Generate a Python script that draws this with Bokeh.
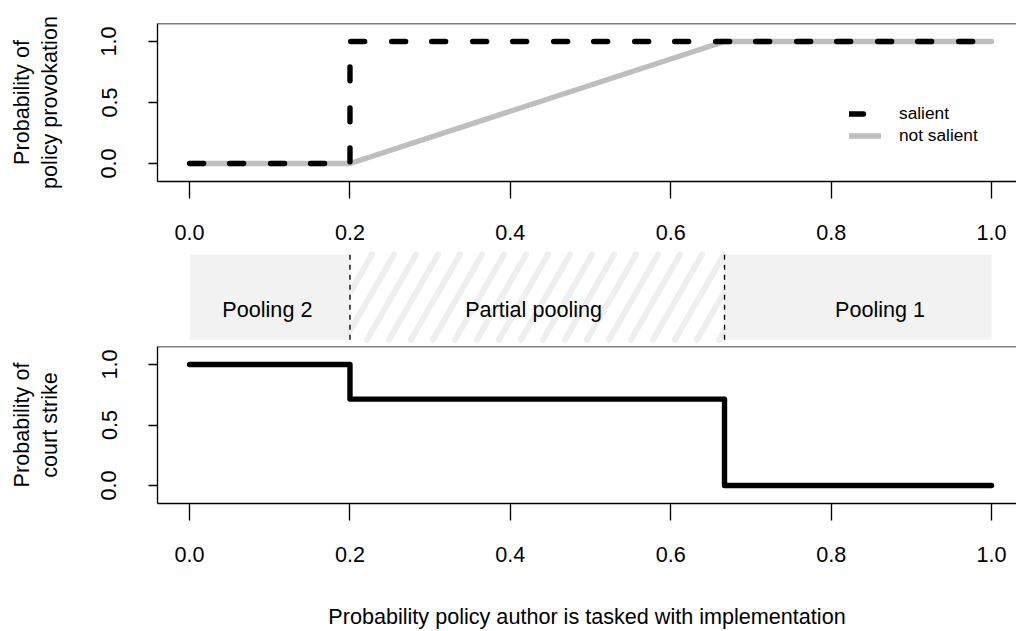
import math
from bokeh.plotting import figure
from bokeh.layouts import column
from bokeh.models import (FixedTicker, NumeralTickFormatter, Span, Legend, LegendItem,
                          Range1d)
from bokeh.embed import file_html
from bokeh.resources import INLINE
from bokeh.core.properties import value

# ---------------- data ----------------
x_ticks = [0.0, 0.2, 0.4, 0.6, 0.8, 1.0]
y_ticks = [0.0, 0.5, 1.0]

salient_x = [0.0, 0.2, 0.2, 1.0]
salient_y = [0.0, 0.0, 1.0, 1.0]
not_salient_x = [0.0, 0.2, 0.667, 1.0]
not_salient_y = [0.0, 0.0, 1.0, 1.0]

strike_x = [0.0, 0.2, 0.2, 0.667, 0.667, 1.0]
strike_y = [1.0, 1.0, 0.714, 0.714, 0.0, 0.0]

regime_labels = ["Pooling 2", "Partial pooling", "Pooling 1"]
regime_bounds = [0.0, 0.2, 0.667, 1.0]
regime_label_x = [0.097, 0.429, 0.861]

# ---------------- layout / style ----------------
FONT = "Liberation Sans"
FS = "21.6px"
W = 1016
LEFT = 157
PX_PER_UNIT = 802.0
X0 = -0.04
xr = Range1d(X0, X0 + (W - LEFT) / PX_PER_UNIT)
YR = (-0.148, 1.148)
LW = 5.4
BW = 1.35


def style_panel(p, ylabel):
    p.xgrid.visible = False
    p.ygrid.visible = False
    p.outline_line_color = None
    p.background_fill_color = "white"
    p.border_fill_color = "white"
    for ax in (p.xaxis[0], p.yaxis[0]):
        ax.axis_line_color = "black"
        ax.axis_line_width = BW
        ax.major_tick_line_color = "black"
        ax.major_tick_line_width = BW
        ax.minor_tick_line_color = None
        ax.major_tick_in = 0
        ax.major_label_text_font = FONT
        ax.major_label_text_font_size = FS
        ax.major_label_text_color = "black"
        ax.axis_label_text_font = FONT
        ax.axis_label_text_font_size = FS
        ax.axis_label_text_font_style = "normal"
        ax.axis_label_text_color = "black"
    xa = p.xaxis[0]
    xa.ticker = FixedTicker(ticks=x_ticks)
    xa.formatter = NumeralTickFormatter(format="0.0")
    xa.major_tick_out = 17
    xa.major_label_standoff = 26
    ya = p.yaxis[0]
    ya.ticker = FixedTicker(ticks=y_ticks)
    ya.formatter = NumeralTickFormatter(format="0.0")
    ya.major_tick_out = 9
    ya.major_label_standoff = 32
    ya.major_label_orientation = "vertical"
    ya.axis_label = ylabel
    ya.axis_label_standoff = 37
    ya.axis_label_text_line_height = 1.1
    p.add_layout(Span(location=YR[1], dimension="width", line_color="black", line_width=BW))


# ---------------- top panel ----------------
p1 = figure(width=W, height=250, x_range=xr, y_range=Range1d(*YR),
            output_backend="svg", toolbar_location=None,
            min_border_left=LEFT, min_border_right=0, min_border_top=23, min_border_bottom=69)
style_panel(p1, "Probability of\npolicy provokation")
r_ns = p1.line(not_salient_x, not_salient_y, line_color="#bebebe", line_width=LW,
               line_join="round", line_cap="round")
r_s = p1.line(salient_x, salient_y, line_color="black", line_width=LW,
              line_dash="14 26 14 27", line_join="round", line_cap="round")
legend = Legend(items=[LegendItem(label="salient", renderers=[r_s]),
                       LegendItem(label="not salient", renderers=[r_ns])],
                location=(692, 35), glyph_width=32, glyph_height=21, label_height=21,
                spacing=1, padding=0, margin=0, label_standoff=18,
                border_line_color=None, background_fill_alpha=0,
                label_text_font=FONT, label_text_font_size="17.3px", label_text_color="black")
p1.add_layout(legend)

# ---------------- middle band ----------------
p2 = figure(width=W, height=95, x_range=xr, y_range=Range1d(-0.067, 1.047),
            output_backend="svg", toolbar_location=None,
            x_axis_location=None, y_axis_location=None,
            min_border_left=LEFT, min_border_right=0, min_border_top=0, min_border_bottom=0)
p2.xgrid.visible = False
p2.ygrid.visible = False
p2.outline_line_color = None
p2.border_fill_color = "white"

BAND = "#f2f2f2"
p2.quad(left=[regime_bounds[0], regime_bounds[2]], right=[regime_bounds[1], regime_bounds[3]],
        bottom=0, top=1, fill_color=BAND, line_color=None)

# hatch stripes in the partial-pooling region (about 60 degrees on screen)
lo, hi = regime_bounds[1], regime_bounds[2]
spacing = 22.0 / PX_PER_UNIT
run = 49.0 / PX_PER_UNIT
xs, ys = [], []
x0 = lo - run
while x0 < hi:
    t_lo = max(0.0, (lo - x0) / run)
    t_hi = min(1.0, (hi - x0) / run)
    if t_hi > t_lo:
        xs.append([x0 + run * t_lo, x0 + run * t_hi])
        ys.append([t_lo, t_hi])
    x0 += spacing
p2.multi_line(xs, ys, line_color="#efefef", line_width=6, line_cap="round")

p2.segment(x0=regime_bounds[1:3], x1=regime_bounds[1:3], y0=0, y1=1,
           line_color="black", line_width=BW, line_dash="5 5")
p2.text(x=regime_label_x, y=[0.355] * 3, text=regime_labels,
        text_font=value(FONT), text_font_size=FS, text_align="center",
        text_baseline="middle", text_color="black")

# ---------------- bottom panel ----------------
p3 = figure(width=W, height=286, x_range=xr, y_range=Range1d(*YR),
            output_backend="svg", toolbar_location=None,
            min_border_left=LEFT, min_border_right=0, min_border_top=1, min_border_bottom=127)
style_panel(p3, "Probability of\ncourt strike")
p3.xaxis[0].axis_label = "Probability policy author is tasked with implementation"
p3.xaxis[0].axis_label_standoff = 39
p3.line(strike_x, strike_y, line_color="black", line_width=LW,
        line_join="round", line_cap="round")

layout = column(p1, p2, p3, spacing=0)
open("out.html", "w").write(file_html(layout, INLINE))
